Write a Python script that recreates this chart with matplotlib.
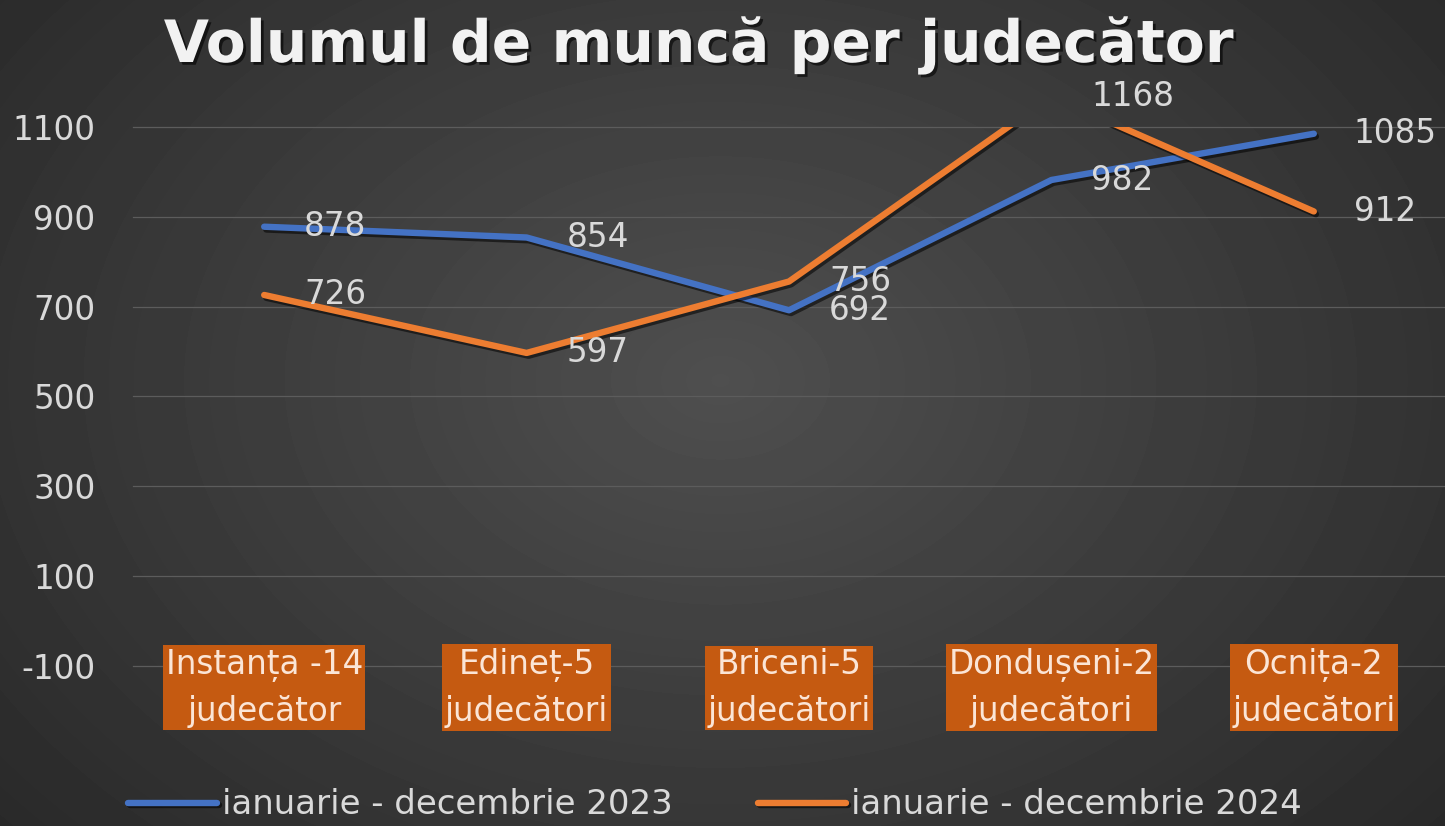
import numpy as np
import matplotlib
matplotlib.use('Agg')
import matplotlib.pyplot as plt
import matplotlib.patheffects as pe

categories = ["Instanța -14\njudecător", "Edineț-5\njudecători", "Briceni-5\njudecători",
              "Dondușeni-2\njudecători", "Ocnița-2\njudecători"]
series_2023 = [878, 854, 692, 982, 1085]
series_2024 = [726, 597, 756, 1168, 912]
series_names = ["ianuarie - decembrie 2023", "ianuarie - decembrie 2024"]
y_ticks = [-100, 100, 300, 500, 700, 900, 1100]
title = "Volumul de muncă per judecător"

BLUE = '#4472C4'
ORANGE = '#ED7D31'
TXT = '#d9d9d9'

W, H = 1445, 826
fig = plt.figure(figsize=(W / 100, H / 100), dpi=100)

# radial gradient background
bg = fig.add_axes([0, 0, 1, 1], zorder=-10)
yy, xx = np.mgrid[0:H, 0:W]
d = np.sqrt(((xx - 720) / 900) ** 2 + ((yy - 380) / 650) ** 2)
val = 0.31 - 0.14 * np.clip(d, 0, 1.3)
bg.imshow(val, cmap='gray', vmin=0, vmax=1, extent=[0, 1, 0, 1], aspect='auto',
          interpolation='bilinear')
bg.set_xlim(0, 1)
bg.set_ylim(0, 1)
bg.axis('off')

ax = fig.add_axes([133 / W, (H - 666) / H, (W - 133) / W, (666 - 127) / H])
ax.patch.set_alpha(0)
for s in ax.spines.values():
    s.set_visible(False)
ax.set_xlim(-0.5, len(categories) - 0.5)
ax.set_ylim(y_ticks[0], y_ticks[-1])
ax.set_yticks(y_ticks)
ax.set_yticklabels([str(t) for t in y_ticks])
ax.tick_params(axis='y', length=0, pad=27, labelsize=23.5, labelcolor=TXT)
ax.set_xticks([])
ax.yaxis.grid(True, color='#5c5c5c', linewidth=0.9, clip_on=False)
ax.set_axisbelow(True)

x = np.arange(len(categories))
shadow = [pe.SimpleLineShadow(offset=(1.5, -2), shadow_color='black', alpha=0.55), pe.Normal()]
l1, = ax.plot(x, series_2023, color=BLUE, lw=4.6, solid_capstyle='round',
              solid_joinstyle='round', path_effects=shadow, label=series_names[0], zorder=3)
l2, = ax.plot(x, series_2024, color=ORANGE, lw=4.6, solid_capstyle='round',
              solid_joinstyle='round', path_effects=shadow, label=series_names[1], zorder=4)

for series in (series_2023, series_2024):
    for i, v in enumerate(series):
        ax.annotate(str(v), (i, v), xytext=(40, 0), textcoords='offset pixels',
                    ha='left', va='center', color=TXT, fontsize=23.5,
                    annotation_clip=False, zorder=6)

for i, cat in enumerate(categories):
    ax.annotate(cat, (i, y_ticks[0]), xytext=(0, -22), textcoords='offset pixels',
                ha='center', va='center', multialignment='center', color='#fbe5d6',
                fontsize=23.5, linespacing=1.5, annotation_clip=False,
                bbox=dict(boxstyle='square,pad=0.08', fc='#c55a11', ec='none'), zorder=6)

fig.text(699 / W, 1 - 62 / H, title, ha='center', va='baseline', fontsize=42,
         fontweight='bold', color='#f2f2f2',
         path_effects=[pe.withSimplePatchShadow(offset=(2, -2), shadow_rgbFace='black', alpha=0.6)])

fig.legend([l1, l2], series_names, loc='center', bbox_to_anchor=(715 / W, 1 - 805 / H),
           ncol=2, frameon=False, fontsize=24.5, handlelength=2.6, handletextpad=0.15,
           columnspacing=2.5, labelcolor=TXT)

fig.savefig('out.png', dpi=100)
